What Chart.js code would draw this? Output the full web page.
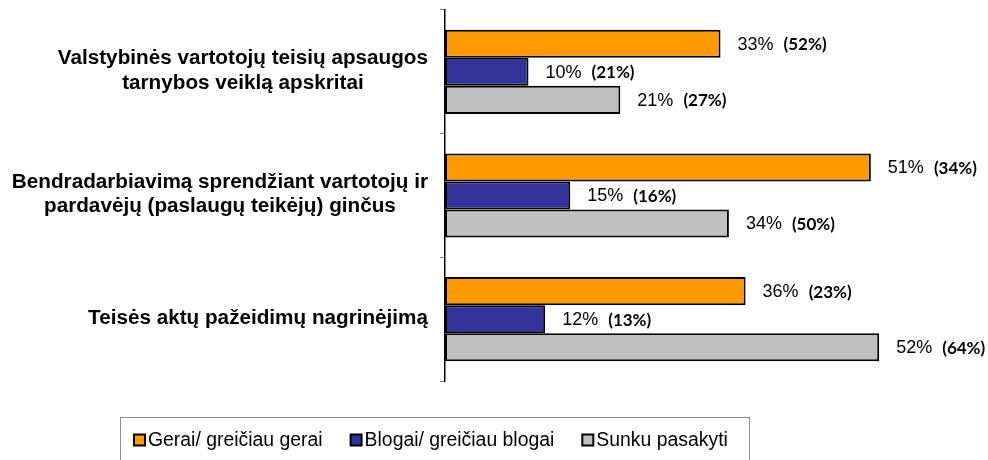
<!DOCTYPE html>
<html>
<head>
<meta charset="utf-8">
<script src="https://cdn.jsdelivr.net/npm/chart.js@4"></script>
<style>
  html, body { margin: 0; padding: 0; background: #fff; }
  #wrap { width: 988px; height: 460px; position: relative; }
</style>
</head>
<body>
<div id="wrap"><canvas id="c" width="988" height="460"></canvas></div>
<script>
const categories = [
  ["Valstybinės vartotojų teisių apsaugos", "tarnybos veiklą apskritai"],
  ["Bendradarbiavimą sprendžiant vartotojų ir", "pardavėjų (paslaugų teikėjų) ginčus"],
  ["Teisės aktų pažeidimų nagrinėjimą"]
];
const seriesNames = ["Gerai/ greičiau gerai", "Blogai/ greičiau blogai", "Sunku pasakyti"];
const goodValues = [33, 51, 36];
const badValues = [10, 15, 12];
const hardValues = [21, 34, 52];
const goodPrev = [52, 34, 23];
const badPrev = [21, 16, 13];
const hardPrev = [27, 50, 64];
const seriesColors = ["#FF9900", "#333399", "#C0C0C0"];

const prevBySeries = [goodPrev, badPrev, hardPrev];

const catLabelPlugin = {
  id: 'catLabels',
  afterDraw(chart) {
    const ctx = chart.ctx;
    const y = chart.scales.y;
    ctx.save();
    ctx.font = 'bold 20.7px "Liberation Sans", Arial, sans-serif';
    ctx.fillStyle = '#000';
    ctx.textAlign = 'center';
    ctx.textBaseline = 'middle';
    const right = 428, lh = 24.5;
    categories.forEach((lines, i) => {
      const cy = y.getPixelForValue(i) - 1;
      const w = Math.max(...lines.map(l => ctx.measureText(l).width));
      const cx = right - w / 2;
      const y0 = cy - (lines.length - 1) * lh / 2;
      lines.forEach((l, j) => ctx.fillText(l, cx, y0 + j * lh));
    });
    ctx.restore();
  }
};

const valueLabelPlugin = {
  id: 'valueLabels',
  afterDatasetsDraw(chart) {
    const ctx = chart.ctx;
    ctx.save();
    ctx.textBaseline = 'middle';
    ctx.textAlign = 'left';
    chart.data.datasets.forEach((ds, di) => {
      const meta = chart.getDatasetMeta(di);
      meta.data.forEach((el, i) => {
        const a = ds.data[i] + '%';
        const b = '(' + prevBySeries[di][i] + '%)';
        let x = el.x + 17;
        const yy = el.y + 1;
        ctx.fillStyle = '#000';
        ctx.font = '18px "Liberation Sans", Arial, sans-serif';
        ctx.fillText(a, x, yy);
        x += ctx.measureText(a).width + 10;
        ctx.font = 'bold 17px Lato, "Liberation Sans", sans-serif';
        ctx.fillText(b, x, yy);
      });
    });
    ctx.restore();
  }
};

const legendPlugin = {
  id: 'customLegend',
  afterDraw(chart) {
    const ctx = chart.ctx;
    ctx.save();
    ctx.strokeStyle = '#8c8c8c';
    ctx.lineWidth = 1;
    ctx.strokeRect(120.5, 417.5, 629, 60);
    ctx.font = '19.4px "Liberation Sans", Arial, sans-serif';
    ctx.textBaseline = 'middle';
    ctx.textAlign = 'left';
    let x = 133;
    const cy = 439.5;
    seriesNames.forEach((name, i) => {
      ctx.fillStyle = '#000';
      ctx.fillRect(x, cy - 6, 13, 13);
      ctx.fillStyle = seriesColors[i];
      ctx.fillRect(x + 2, cy - 4, 9, 9);
      ctx.fillStyle = '#000';
      ctx.fillText(name, x + 15, cy + 1);
      x += 15 + ctx.measureText(name).width + 27;
    });
    ctx.restore();
  }
};

const datasets = [goodValues, badValues, hardValues].map((vals, i) => ({
  label: seriesNames[i],
  data: vals,
  backgroundColor: seriesColors[i],
  borderColor: '#000',
  borderWidth: 2,
  borderSkipped: false,
  barPercentage: 1.0,
  categoryPercentage: 0.68
}));

new Chart(document.getElementById('c'), {
  type: 'bar',
  data: { labels: categories.map(c => c.join(' ')), datasets },
  options: {
    indexAxis: 'y',
    responsive: false,
    animation: false,
    devicePixelRatio: 1,
    layout: { padding: { top: 10, right: 42, bottom: 79, left: 0 } },
    plugins: { legend: { display: false }, tooltip: { enabled: false } },
    scales: {
      x: { min: 0, max: 60, display: false },
      y: {
        offset: true,
        ticks: { display: false },
        grid: { drawOnChartArea: false, drawTicks: true, tickLength: 5, color: '#808080', offset: true },
        border: { display: true, color: '#000', width: 1.5 },
        afterFit(scale) { scale.width = 445; }
      }
    }
  },
  plugins: [catLabelPlugin, valueLabelPlugin, legendPlugin]
});
</script>
</body>
</html>
